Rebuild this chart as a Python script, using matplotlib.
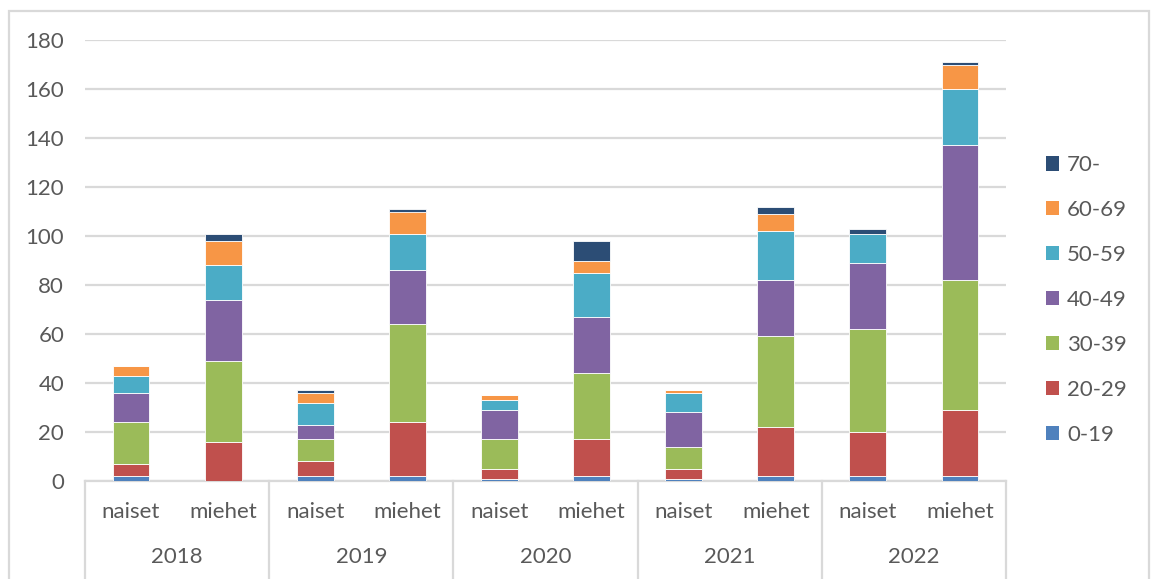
import numpy as np
import matplotlib.pyplot as plt
from matplotlib.patches import Rectangle
from matplotlib.lines import Line2D

plt.rcParams['font.family'] = ['Lato', 'DejaVu Sans']

years = ["2018", "2019", "2020", "2021", "2022"]
genders = ["naiset", "miehet"]
age_groups = ["0-19", "20-29", "30-39", "40-49", "50-59", "60-69", "70-"]

# one value per bar: 2018 naiset, 2018 miehet, 2019 naiset, ...
age_0_19 = [2, 0, 2, 2, 1, 2, 1, 2, 2, 2]
age_20_29 = [5, 16, 6, 22, 4, 15, 4, 20, 18, 27]
age_30_39 = [17, 33, 9, 40, 12, 27, 9, 37, 42, 53]
age_40_49 = [12, 25, 6, 22, 12, 23, 14, 23, 27, 55]
age_50_59 = [7, 14, 9, 15, 4, 18, 8, 20, 12, 23]
age_60_69 = [4, 10, 4, 9, 2, 5, 1, 7, 0, 10]
age_70 = [0, 3, 1, 1, 0, 8, 0, 3, 2, 1]

series = [age_0_19, age_20_29, age_30_39, age_40_49, age_50_59, age_60_69, age_70]
colors = ["#4F81BD", "#C0504D", "#9BBB59", "#8064A2", "#4BACC6", "#F79646", "#2C4D75"]
text_col = "#595959"
grid_col = "#D9D9D9"

W, H = 1152, 579
fig = plt.figure(figsize=(W / 100, H / 100), dpi=100)
ax = fig.add_axes([85 / W, (H - 481) / H, 921 / W, 441 / H])

n = len(years) * len(genders)
x = np.arange(n)
bottom = np.zeros(n)
for vals, c, lab in zip(series, colors, age_groups):
    ax.bar(x, vals, width=0.4, bottom=bottom, color=c, label=lab,
           edgecolor="white", linewidth=0.6, zorder=3)
    bottom += np.array(vals)

ax.set_xlim(-0.5, n - 0.5)
ax.set_ylim(0, 180)
ax.set_yticks(range(0, 181, 20))
ax.yaxis.grid(True, color=grid_col, linewidth=1.6, zorder=0)
ax.tick_params(axis="y", length=0, pad=15, labelsize=16, labelcolor=text_col)
ax.set_xticks([])
for side in ["top", "right", "left"]:
    ax.spines[side].set_visible(False)
ax.spines["bottom"].set_color(grid_col)
ax.spines["bottom"].set_linewidth(1.6)

# two-level category axis
trans = ax.get_xaxis_transform()
for i in range(n):
    ax.text(x[i], -31 / 441, genders[i % 2], transform=trans, ha="center", va="center",
            fontsize=16, color=text_col)
for j, yr in enumerate(years):
    ax.text(2 * j + 0.5, -76 / 441, yr, transform=trans, ha="center", va="center",
            fontsize=16, color=text_col)
for k in range(len(years) + 1):
    ax.add_line(Line2D([2 * k - 0.5, 2 * k - 0.5], [0, -110 / 441], transform=trans,
                       color=grid_col, linewidth=1.6, clip_on=False))

# chart border
fig.patches.append(Rectangle((9 / W, -0.1), (1149 - 9) / W, (H - 11) / H + 0.1,
                             transform=fig.transFigure, fill=False,
                             edgecolor=grid_col, linewidth=1.6))

handles, labels = ax.get_legend_handles_labels()
leg = fig.legend(handles[::-1], labels[::-1], loc="center left",
                 bbox_to_anchor=(1026 / W, (H - 300) / H), frameon=False,
                 fontsize=16, labelcolor=text_col, handlelength=0.6, handleheight=0.6,
                 handletextpad=0.35, labelspacing=1.12)
for h in leg.legend_handles:
    h.set_edgecolor("none")

fig.savefig("out.png", dpi=100)
